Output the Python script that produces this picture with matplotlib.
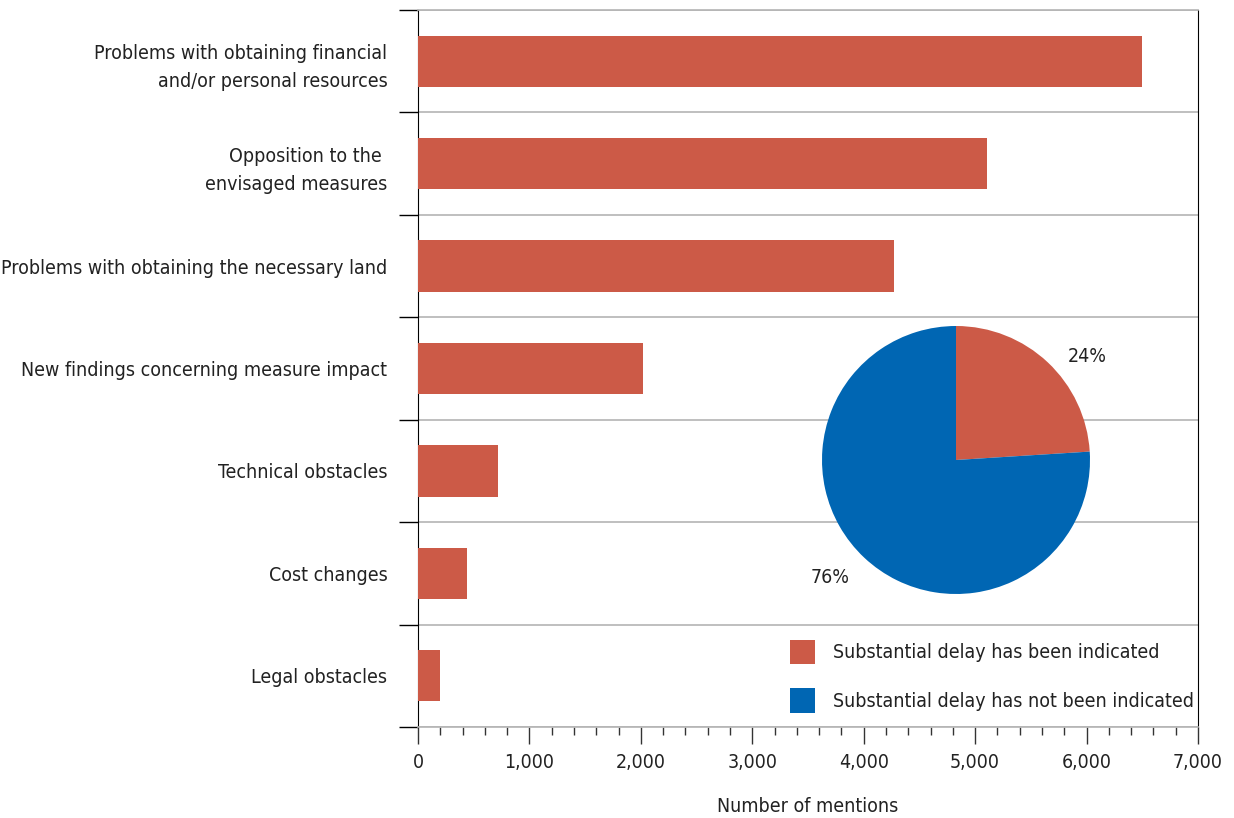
import matplotlib.pyplot as plt
from matplotlib import font_manager
from matplotlib.patches import Patch
from matplotlib.ticker import MultipleLocator
import numpy as np

categories = [
    "Problems with obtaining financial\nand/or personal resources",
    "Opposition to the \nenvisaged measures",
    "Problems with obtaining the necessary land",
    "New findings concerning measure impact",
    "Technical obstacles",
    "Cost changes",
    "Legal obstacles",
]
mentions = [6500, 5110, 4270, 2020, 720, 440, 200]

pie_labels = ["Substantial delay has been indicated", "Substantial delay has not been indicated"]
pie_shares = [24, 76]

red = '#CC5A47'
blue = '#0066B3'
grid_gray = '#B4B4B4'
text_col = '#222222'

# look for a narrow face (the original uses a condensed DIN-like font)
narrow = None
for f in font_manager.fontManager.ttflist:
    tag = (f.name + ' ' + f.fname).lower()
    if ('condensed' in tag or 'narrow' in tag) and f.style == 'normal' \
            and f.weight in (400, 'normal', 'regular') and 'semi' not in tag and 'extra' not in tag:
        narrow = f
        break

if narrow is not None:
    plt.rcParams['font.family'] = [narrow.name, 'DejaVu Sans']
    plt.rcParams['font.stretch'] = narrow.stretch
    fs = 14
else:
    plt.rcParams['font.family'] = ['Roboto', 'DejaVu Sans']
    fs = 13.5
plt.rcParams['font.size'] = fs
plt.rcParams['text.color'] = text_col
plt.rcParams['axes.labelcolor'] = text_col
plt.rcParams['xtick.labelcolor'] = text_col
plt.rcParams['ytick.labelcolor'] = text_col

fig = plt.figure(figsize=(12.34, 8.18), dpi=100)
ax = fig.add_axes([418/1234, 1 - 727/818, 780/1234, 717/818])

y = np.arange(len(categories))
ax.barh(y, mentions, height=0.5, color=red, zorder=3)

ax.set_xlim(0, 7000)
ax.set_ylim(len(categories) - 0.5, -0.5)

# category boundaries as major ticks + grid, labels on minor ticks
ax.set_yticks(np.arange(-0.5, len(categories), 1.0))
ax.set_yticklabels([])
ax.set_yticks(y, minor=True)
ax.set_yticklabels(categories, minor=True, linespacing=1.6)
ax.tick_params(axis='y', which='major', length=14, width=1, color='black')
ax.tick_params(axis='y', which='minor', length=0, pad=22)
ax.yaxis.grid(True, which='major', color=grid_gray, linewidth=1.2, zorder=0)

ax.xaxis.set_major_locator(MultipleLocator(1000))
ax.xaxis.set_minor_locator(MultipleLocator(200))
ax.set_xticklabels([f"{int(v):,}" for v in ax.get_xticks()])
ax.tick_params(axis='x', which='major', length=12, width=1, color='#333333', pad=7)
ax.tick_params(axis='x', which='minor', length=6, width=1, color='#333333')
ax.set_xlabel("Number of mentions", labelpad=18)

ax.spines['left'].set_color('black')
ax.spines['right'].set_color('black')
ax.spines['top'].set_color(grid_gray)
ax.spines['bottom'].set_color(grid_gray)
ax.spines['top'].set_linewidth(1.2)
ax.spines['bottom'].set_linewidth(1.2)

# inset pie
pax = fig.add_axes([(956 - 134)/1234, (818 - 460 - 134)/818, 268/1234, 268/818])
pax.pie(pie_shares, colors=[red, blue], startangle=90, counterclock=False,
        wedgeprops=dict(linewidth=0))
pax.set_xlim(-1, 1)
pax.set_ylim(-1, 1)
pax.set_aspect('equal')
pax.text(0.98, 0.77, f"{pie_shares[0]}%", ha='center', va='center')
pax.text(-0.94, -0.88, f"{pie_shares[1]}%", ha='center', va='center')

handles = [Patch(facecolor=red), Patch(facecolor=blue)]
fig.legend(handles, pie_labels, loc='upper left', bbox_to_anchor=(772/1234, 1 - 622/818),
           frameon=False, handlelength=1.3, handleheight=1.6, handletextpad=0.95,
           labelspacing=1.2, fontsize=fs)

fig.savefig('out.png', dpi=100)
